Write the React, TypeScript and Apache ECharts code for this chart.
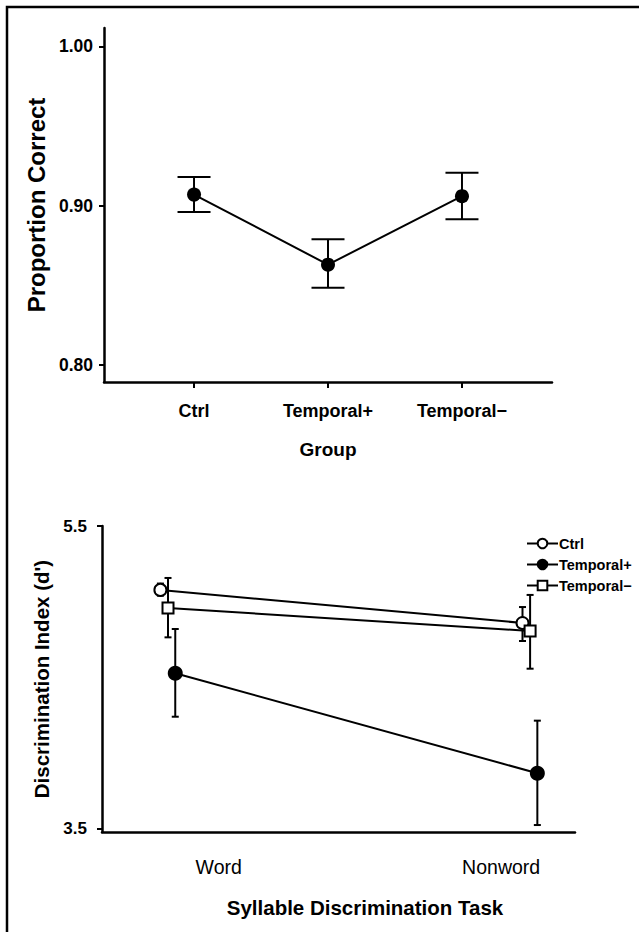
import React, { useEffect, useRef } from "react";
import * as echarts from "echarts";

// ---------- Data ----------
const groups = ["Ctrl", "Temporal+", "Temporal−"];
const propCorrect = [0.907, 0.863, 0.906];
const propLow = [0.896, 0.8485, 0.8915];
const propHigh = [0.918, 0.879, 0.9207];
const propTicks = [0.8, 0.9, 1.0];

const tasks = ["Word", "Nonword"];
const taskLabelPos = [1.14, 1.92];
const seriesNames = ["Ctrl", "Temporal+", "Temporal−"];
const seriesOffset = [-0.021, 0.02, 0];
const dMean = [
  [5.078, 4.86],
  [4.528, 3.868],
  [4.959, 4.807],
];
const dLow = [
  [5.04, 4.741],
  [4.241, 3.526],
  [4.765, 4.558],
];
const dHigh = [
  [5.12, 4.965],
  [4.82, 4.215],
  [5.157, 5.045],
];
const dTicks = [3.5, 5.5];

const FONT = "'Liberation Sans', Arial, Helvetica, sans-serif";

function errorRenderer(capHalf: number) {
  return (params: any, api: any) => {
    const x = api.value(0);
    const lo = api.coord([x, api.value(1)]);
    const hi = api.coord([x, api.value(2)]);
    const style = { stroke: "#000", lineWidth: 2 };
    return {
      type: "group",
      children: [
        { type: "line", shape: { x1: hi[0], y1: hi[1], x2: lo[0], y2: lo[1] }, style },
        { type: "line", shape: { x1: hi[0] - capHalf, y1: hi[1], x2: hi[0] + capHalf, y2: hi[1] }, style },
        { type: "line", shape: { x1: lo[0] - capHalf, y1: lo[1], x2: lo[0] + capHalf, y2: lo[1] }, style },
      ],
    };
  };
}

export default function App() {
  const ref = useRef<HTMLDivElement>(null);
  useEffect(() => {
    if (!ref.current) return;
    const chart = echarts.init(ref.current, undefined, { renderer: "svg" });

    const topLine = groups.map((g, i) => [i + 1, propCorrect[i]]);
    const topErr = groups.map((g, i) => [i + 1, propLow[i], propHigh[i]]);

    const symbols = ["circle", "circle", "rect"];
    const fills = ["#fff", "#000", "#fff"];
    const sizes = [12, 13, 11];

    const bottomSeries: any[] = [];
    seriesNames.forEach((name, s) => {
      bottomSeries.push({
        type: "custom",
        name: name + " err",
        xAxisIndex: 1,
        yAxisIndex: 1,
        renderItem: errorRenderer(3.5),
        encode: { x: 0, y: [1, 2] },
        data: tasks.map((t, i) => [i + 1 + seriesOffset[s], dLow[s][i], dHigh[s][i]]),
        z: 1,
        clip: false,
        silent: true,
      });
    });
    seriesNames.forEach((name, s) => {
      bottomSeries.push({
        type: "line",
        name,
        xAxisIndex: 1,
        yAxisIndex: 1,
        data: tasks.map((t, i) => [i + 1 + seriesOffset[s], dMean[s][i]]),
        symbol: symbols[s],
        symbolSize: sizes[s],
        showAllSymbol: true,
        lineStyle: { color: "#000", width: 2 },
        itemStyle: { color: fills[s], borderColor: "#000", borderWidth: 2 },
        z: 3,
      });
    });

    const axisLineStyle = { color: "#000", width: 2.5 };

    chart.setOption({
      animation: false,
      backgroundColor: "#fff",
      textStyle: { fontFamily: FONT },
      graphic: [
        {
          type: "rect",
          shape: { x: 7, y: 7, width: 700, height: 1000 },
          style: { fill: "none", stroke: "#000", lineWidth: 2.5 },
          silent: true,
        },
      ],
      legend: {
        data: seriesNames,
        orient: "vertical",
        left: 521,
        top: 531,
        itemWidth: 31,
        itemHeight: 12,
        itemGap: 6,
        selectedMode: false,
        textStyle: { fontFamily: FONT, fontWeight: "bold", fontSize: 14.5, color: "#000", padding: [0, 0, 0, -4] },
      },
      grid: [
        { left: 104, top: 28, width: 448, height: 354 },
        { left: 102, top: 526, width: 473, height: 306 },
      ],
      xAxis: [
        {
          type: "value",
          gridIndex: 0,
          min: 0.328,
          max: 3.672,
          axisLine: { show: true, lineStyle: axisLineStyle },
          axisTick: { show: true, customValues: [1, 2, 3], length: 6, lineStyle: { color: "#000", width: 2 } },
          axisLabel: {
            customValues: [1, 2, 3],
            formatter: (v: number) => groups[Math.round(v) - 1] ?? "",
            margin: 20,
            fontFamily: FONT,
            fontWeight: "bold",
            fontSize: 18,
            color: "#000",
          },
          splitLine: { show: false },
          name: "Group",
          nameLocation: "middle",
          nameGap: 58,
          nameTextStyle: { fontFamily: FONT, fontWeight: "bold", fontSize: 19, color: "#000" },
        },
        {
          type: "value",
          gridIndex: 1,
          min: 0.8177,
          max: 2.124,
          axisLine: { show: true, lineStyle: axisLineStyle },
          axisTick: { show: false },
          axisLabel: {
            customValues: taskLabelPos,
            formatter: (v: number) => {
              const i = taskLabelPos.findIndex((p) => Math.abs(p - v) < 1e-6);
              return i >= 0 ? tasks[i] : "";
            },
            margin: 25,
            fontFamily: FONT,
            fontSize: 19.5,
            color: "#000",
          },
          splitLine: { show: false },
          name: "Syllable Discrimination Task",
          nameLocation: "middle",
          nameGap: 65,
          nameTextStyle: { fontFamily: FONT, fontWeight: "bold", fontSize: 20.5, color: "#000", padding: [0, 0, 0, 53] },
        },
      ],
      yAxis: [
        {
          type: "value",
          gridIndex: 0,
          min: 0.7893,
          max: 1.0116,
          axisLine: { show: true, lineStyle: axisLineStyle },
          axisTick: { show: true, customValues: propTicks, length: 5, lineStyle: { color: "#000", width: 2 } },
          axisLabel: {
            customValues: propTicks,
            formatter: (v: number) => v.toFixed(2),
            margin: 11,
            fontFamily: FONT,
            fontWeight: "bold",
            fontSize: 17.5,
            color: "#000",
          },
          splitLine: { show: false },
          name: "Proportion Correct",
          nameLocation: "middle",
          nameGap: 52,
          nameTextStyle: { fontFamily: FONT, fontWeight: "bold", fontSize: 24, color: "#000" },
        },
        {
          type: "value",
          gridIndex: 1,
          min: 3.48,
          max: 5.5,
          axisLine: { show: true, lineStyle: axisLineStyle },
          axisTick: { show: true, customValues: dTicks, length: 5, lineStyle: { color: "#000", width: 2 } },
          axisLabel: {
            customValues: dTicks,
            formatter: (v: number) => v.toFixed(1),
            margin: 15,
            fontFamily: FONT,
            fontWeight: "bold",
            fontSize: 17,
            color: "#000",
          },
          splitLine: { show: false },
          name: "Discrimination Index (d')",
          nameLocation: "middle",
          nameGap: 45,
          nameTextStyle: { fontFamily: FONT, fontWeight: "bold", fontSize: 20.5, color: "#000" },
        },
      ],
      series: [
        {
          type: "custom",
          name: "Proportion Correct err",
          xAxisIndex: 0,
          yAxisIndex: 0,
          renderItem: errorRenderer(16.5),
          encode: { x: 0, y: [1, 2] },
          data: topErr,
          z: 1,
          clip: false,
          silent: true,
        },
        {
          type: "line",
          name: "Proportion Correct",
          xAxisIndex: 0,
          yAxisIndex: 0,
          data: topLine,
          symbol: "circle",
          symbolSize: 14,
          lineStyle: { color: "#000", width: 2 },
          itemStyle: { color: "#000" },
          z: 3,
        },
        ...bottomSeries,
      ],
    });
    return () => chart.dispose();
  }, []);
  return (
    <div
      ref={ref}
      style={{ position: "absolute", left: 0, top: 0, width: 639, height: 932, background: "#fff" }}
    />
  );
}
